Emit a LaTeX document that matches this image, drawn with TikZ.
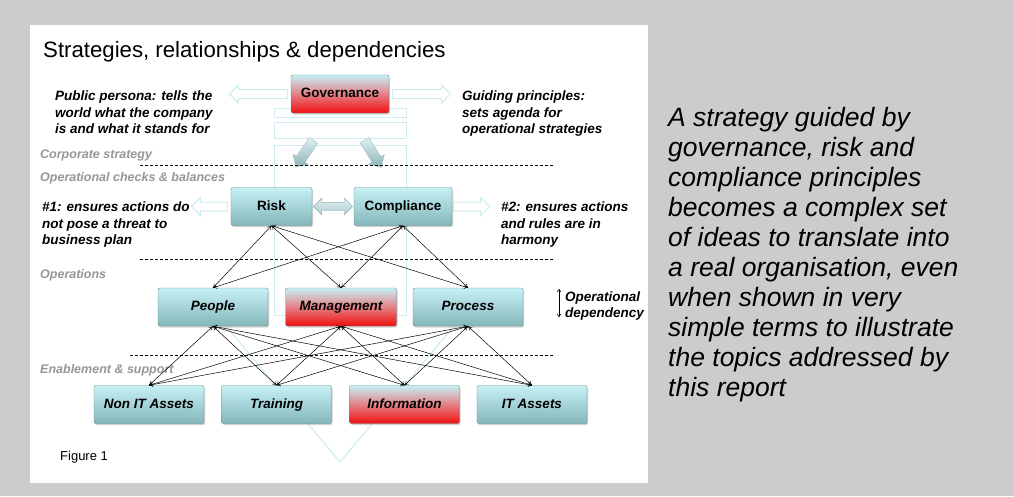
\documentclass[tikz,border=0pt]{standalone}
\usepackage{fontspec}
\setmainfont{Liberation Sans}
\usepackage{tikz}
\usetikzlibrary{arrows.meta}
\usetikzlibrary{positioning}
\usetikzlibrary{shapes.arrows}
\usetikzlibrary{shadows}

\definecolor{pageGrey}{RGB}{204,204,204}
\definecolor{boxTop}{RGB}{198,241,245}
\definecolor{boxBottom}{RGB}{132,182,186}
\definecolor{boxEdge}{RGB}{98,140,143}
\definecolor{redMiddle}{RGB}{228,128,134}
\definecolor{redBottom}{RGB}{240,14,14}
\definecolor{ghostCyan}{RGB}{205,236,239}
\definecolor{labelGrey}{RGB}{150,150,150}
\definecolor{pipeLight}{RGB}{224,241,243}
\definecolor{pipeDark}{RGB}{140,178,182}

\begin{document}
\begin{tikzpicture}[x=1pt,y=-1pt]
\tikzset{
  boxNode/.style={
    rectangle,
    rounded corners=2pt,
    draw=boxEdge,
    top color=boxTop,
    bottom color=boxBottom,
    drop shadow={shadow xshift=1pt,shadow yshift=-1.5pt,opacity=0.35},
    minimum height=38pt,
    inner sep=0pt,
    text height=10pt, text depth=3pt,
    font=\fontsize{13.5}{16}\selectfont\bfseries\itshape
    },
  redNode/.style={
    boxNode,
    top color=boxTop,
    bottom color=redBottom,
    middle color=redMiddle
    },
  plainLabel/.style={font=\fontsize{13.5}{16}\selectfont\bfseries},
  hollowArrow/.style={
    single arrow,
    draw=ghostCyan,
    line width=1pt,
    fill=white,
    inner sep=0pt,
    text height=4pt, text depth=4pt,
    single arrow head extend=4.5pt,
    minimum height=58pt,
    anchor=tail
    },
  linkArrow/.style={
    double arrow,
    draw=pipeDark,
    top color=pipeLight, bottom color=pipeDark!70,
    inner sep=0pt,
    text height=4pt, text depth=4pt,
    double arrow head extend=4pt,
    minimum height=39pt
    },
  pipeArrow/.style={
    single arrow,
    draw=pipeDark!80,
    top color=pipeLight, bottom color=pipeDark,
    inner sep=0pt,
    text height=5pt, text depth=5pt,
    single arrow head extend=4pt,
    minimum height=32pt
    },
  layerLabel/.style={
    anchor=west, inner sep=0pt, text=labelGrey,
    font=\fontsize{12.5}{15}\selectfont\bfseries\itshape
    },
  noteText/.style={
    anchor=north west, align=left, inner sep=0pt,
    font=\fontsize{13.5}{16.5}\selectfont\bfseries\itshape
    },
  linkLine/.style={<->, >={To[length=4pt,width=4.5pt]}, line width=0.5pt},
  layerLine/.style={dash pattern=on 3pt off 2pt, line width=0.7pt},
  ghostLine/.style={draw=ghostCyan, line width=1pt}
}
    % page and panel
    \useasboundingbox (0,0) rectangle (1014,496);
    \fill[pageGrey] (0,0) rectangle (1014,496);
    \fill[white] (30,25) rectangle (648,483);

    % faint pillar behind the layers
    \draw[ghostLine] (274,108) rectangle (406,117);
    \draw[ghostLine] (274,122) rectangle (406,138);
    \draw[ghostLine] (285,315) -- (274,315) -- (274,145) -- (406,145) -- (406,315) -- (397,315);
    \draw[ghostLine] (226,326) -- (340,462) -- (454,326);

    \node (title) [anchor=base west, inner sep=0pt, font=\fontsize{22.2}{26}\selectfont] at (43,57) {Strategies, relationships \& dependencies};

    % layers
    \node (gov) [redNode, plainLabel, minimum width=98pt] at (340,94) {Governance};
    \node (risk) [boxNode, plainLabel, minimum width=81pt] at (271.5,206.5) {Risk};
    \node (comp) [boxNode, plainLabel, minimum width=98pt] at (403,206.5) {Compliance};
    \node (people) [boxNode, minimum width=110pt] at (213,307) {People};
    \node (mgmt) [redNode, minimum width=111pt] at (341,307) {Management};
    \node (process) [boxNode, minimum width=110pt] at (468,307) {Process};
    \node (nonit) [boxNode, minimum width=110pt] at (149,404.5) {Non IT Assets};
    \node (training) [boxNode, minimum width=110pt] at (276.5,404.5) {Training};
    \node (info) [redNode, minimum width=110pt] at (404.5,404.5) {Information};
    \node (itassets) [boxNode, minimum width=110pt] at (532,404.5) {IT Assets};

    % block arrows
    \node (govWest) [hollowArrow, shape border rotate=180] at ([xshift=-3pt]gov.west) {};
    \node (govEast) [hollowArrow] at ([xshift=3pt]gov.east) {};
    \node (riskWest) [hollowArrow, shape border rotate=180, minimum height=36pt] at ([xshift=-3pt]risk.west) {};
    \node (compEast) [hollowArrow, minimum height=36pt] at ([xshift=1pt]comp.east) {};
    \node (riskComp) [linkArrow, right=1pt of risk] {};
    \node (stratWest) [pipeArrow, rotate=236] at (306,151.5) {};
    \node (stratEast) [pipeArrow, rotate=302] at (371.5,151.5) {};

    % layer separators and names
    \draw[layerLine] (140,165) -- (555,165);
    \draw[layerLine] (140,259) -- (555,259);
    \draw[layerLine] (130,355) -- (555,355);
    \node (corpLabel) [layerLabel] at (40,155) {Corporate strategy};
    \node (checkLabel) [layerLabel] at (40,178) {Operational checks \& balances};
    \node (opsLabel) [layerLabel] at (40,275) {Operations};
    \node (enableLabel) [layerLabel] at (40,370) {Enablement \& support};

    % checks to operations
    \draw[linkLine] (risk.south) -- (people.north);
    \draw[linkLine] (risk.south) -- (mgmt.north);
    \draw[linkLine] (risk.south) -- (process.north);
    \draw[linkLine] (comp.south) -- (people.north);
    \draw[linkLine] (comp.south) -- (mgmt.north);
    \draw[linkLine] (comp.south) -- (process.north);

    % operations to enablement
    \draw[linkLine] (people.south) -- (nonit.north);
    \draw[linkLine] (people.south) -- (training.north);
    \draw[linkLine] (people.south) -- (info.north);
    \draw[linkLine] (people.south) -- (itassets.north);
    \draw[linkLine] (mgmt.south) -- (nonit.north);
    \draw[linkLine] (mgmt.south) -- (training.north);
    \draw[linkLine] (mgmt.south) -- (info.north);
    \draw[linkLine] (mgmt.south) -- (itassets.north);
    \draw[linkLine] (process.south) -- (nonit.north);
    \draw[linkLine] (process.south) -- (training.north);
    \draw[linkLine] (process.south) -- (info.north);
    \draw[linkLine] (process.south) -- (itassets.north);

    % notes
    \node (personaNote) [noteText] at (55,91) {Public persona: tells the\\world what the company\\is and what it stands for};
    \node (guideNote) [noteText] at (462,91) {Guiding principles:\\sets agenda for\\operational strategies};
    \node (riskNote) [noteText] at (42,202) {\#1: ensures actions do\\not pose a threat to\\business plan};
    \node (compNote) [noteText] at (501,202) {\#2: ensures actions\\and rules are in\\harmony};

    \coordinate (depTop) at (559,289);
    \coordinate (depBottom) at (559,317);
    \draw[<->, >={To[length=3pt,width=4pt]}, line width=0.6pt] (depTop) -- (depBottom);
    \node (depNote) [noteText, anchor=west] at (565,306) {Operational\\dependency};

    \node (figLabel) [anchor=west, inner sep=0pt, font=\fontsize{13}{15}\selectfont] at (60,457) {Figure 1};

    \node (summary) [anchor=north west, align=left, inner sep=0pt, font=\fontsize{26.5}{30}\selectfont\itshape] at (668,107) {A strategy guided by\\governance, risk and\\compliance principles\\becomes a complex set\\of ideas to translate into\\a real organisation, even\\when shown in very\\simple terms to illustrate\\the topics addressed by\\this report};

\end{tikzpicture}
\end{document}
